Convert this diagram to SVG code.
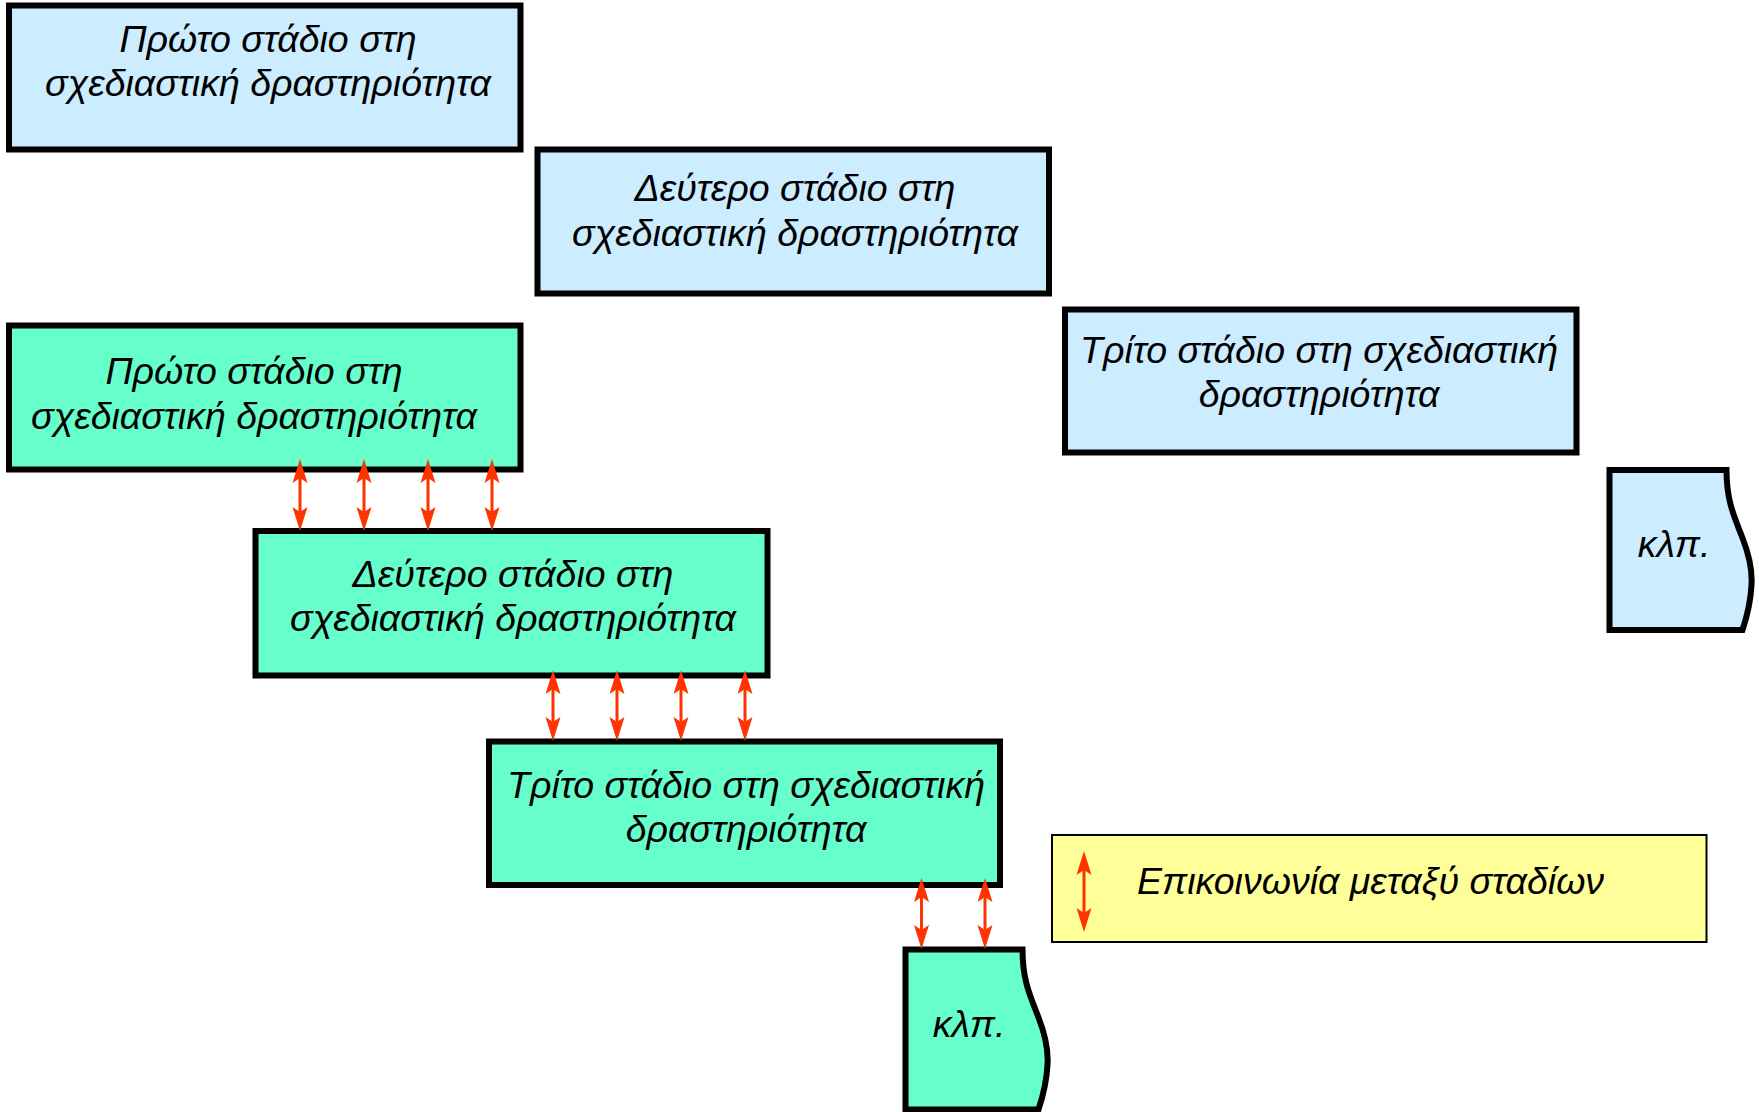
<svg xmlns="http://www.w3.org/2000/svg" width="1759" height="1112" viewBox="0 0 1759 1112">
<style>
.box{stroke:#000;stroke-width:6;stroke-linejoin:miter}
.blue{fill:#CCECFF}
.green{fill:#66FFCC}
.legend{fill:#FFFF99;stroke:#000;stroke-width:2}
.t{font-family:"Liberation Sans",Arial,"DejaVu Sans",sans-serif;font-style:italic;font-size:37.5px;fill:#000;text-anchor:middle}
.ts{text-anchor:start}
.arr{stroke:#FF3300;stroke-width:3;fill:none;marker-start:url(#ah);marker-end:url(#ah)}
</style>
<defs>
<marker id="ah" markerUnits="userSpaceOnUse" viewBox="-10 -9 26 18" markerWidth="26" markerHeight="18" refX="0" refY="0" orient="auto-start-reverse">
<path d="M15,0 L-9,-7.5 L-4,0 L-9,7.5 Z" fill="#FF3300"/>
</marker>
<path id="klp" d="M0,0 H117 C117,30 124,45 133,68 C140,86 143,100 142,115 C141,135 137,148 133,160 H0 Z"/>
</defs>
<rect width="1759" height="1112" fill="#fff"/>
<g id="blue1">
<rect class="box blue" x="9" y="5.5" width="511.5" height="144"/>
<text class="t" x="268" y="52">Πρώτο στάδιο στη</text>
<text class="t" x="268" y="96">σχεδιαστική δραστηριότητα</text>
</g>
<g id="blue2">
<rect class="box blue" x="537.5" y="149.5" width="511.5" height="144"/>
<text class="t" x="795" y="201">Δεύτερο στάδιο στη</text>
<text class="t" x="795" y="245.5">σχεδιαστική δραστηριότητα</text>
</g>
<g id="blue3">
<rect class="box blue" x="1065" y="309.5" width="511.5" height="143"/>
<text class="t" x="1319" y="363">Τρίτο στάδιο στη σχεδιαστική</text>
<text class="t" x="1319" y="407">δραστηριότητα</text>
</g>
<g id="blue4">
<use href="#klp" class="box blue" transform="translate(1609.5,470)"/>
<text class="t" x="1674" y="557">κλπ.</text>
</g>
<g id="green1">
<rect class="box green" x="9" y="325.5" width="511.5" height="144"/>
<text class="t" x="254" y="383.5">Πρώτο στάδιο στη</text>
<text class="t" x="254" y="428.5">σχεδιαστική δραστηριότητα</text>
</g>
<g id="green2">
<rect class="box green" x="255.5" y="531" width="512" height="144.5"/>
<text class="t" x="513" y="586.5">Δεύτερο στάδιο στη</text>
<text class="t" x="513" y="631">σχεδιαστική δραστηριότητα</text>
</g>
<g id="green3">
<rect class="box green" x="489" y="741.5" width="511" height="143.5"/>
<text class="t" x="746" y="798">Τρίτο στάδιο στη σχεδιαστική</text>
<text class="t" x="746" y="841.5">δραστηριότητα</text>
</g>
<g id="green4">
<use href="#klp" class="box green" transform="translate(905.5,949.5)"/>
<text class="t" x="969" y="1037">κλπ.</text>
</g>
<g id="legend">
<rect class="legend" x="1052" y="835" width="654.5" height="107"/>
<line class="arr" x1="1084" y1="866" x2="1084" y2="917"/>
<text class="t ts" x="1137" y="894">Επικοινωνία μεταξύ σταδίων</text>
</g>
<g id="connectors">
<line class="arr" x1="300" y1="474" x2="300" y2="516"/>
<line class="arr" x1="364" y1="474" x2="364" y2="516"/>
<line class="arr" x1="428" y1="474" x2="428" y2="516"/>
<line class="arr" x1="492" y1="474" x2="492" y2="516"/>
<line class="arr" x1="553" y1="685" x2="553" y2="726"/>
<line class="arr" x1="617" y1="685" x2="617" y2="726"/>
<line class="arr" x1="681" y1="685" x2="681" y2="726"/>
<line class="arr" x1="745" y1="685" x2="745" y2="726"/>
<line class="arr" x1="921.5" y1="893" x2="921.5" y2="934"/>
<line class="arr" x1="985" y1="893" x2="985" y2="934"/>
</g>
</svg>
